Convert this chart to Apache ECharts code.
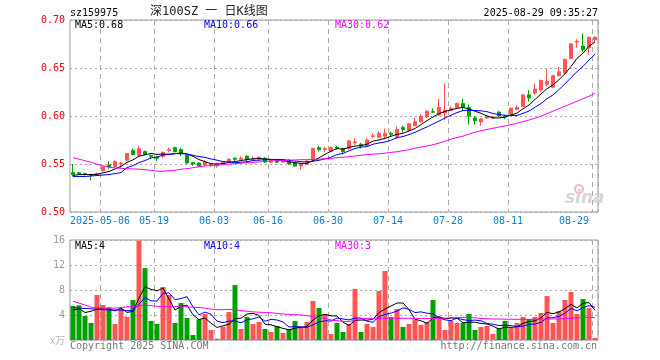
<!DOCTYPE html>
<html><head><meta charset="utf-8">
<script src="https://cdn.jsdelivr.net/npm/echarts@6/dist/echarts.min.js"></script>
<style>html,body{margin:0;padding:0;background:#fff}#c{width:660px;height:360px}</style>
</head><body><div id="c"></div>
<script>
const dates = ['2025-04-24','2025-04-25','2025-04-28','2025-04-29','2025-04-30',
'2025-05-06','2025-05-07','2025-05-08','2025-05-09','2025-05-12','2025-05-13','2025-05-14','2025-05-15','2025-05-16','2025-05-19','2025-05-20','2025-05-21','2025-05-22','2025-05-23','2025-05-26','2025-05-27','2025-05-28','2025-05-29','2025-05-30',
'2025-06-03','2025-06-04','2025-06-05','2025-06-06','2025-06-09','2025-06-10','2025-06-11','2025-06-12','2025-06-13','2025-06-16','2025-06-17','2025-06-18','2025-06-19','2025-06-20','2025-06-23','2025-06-24','2025-06-25','2025-06-26','2025-06-27','2025-06-30',
'2025-07-01','2025-07-02','2025-07-03','2025-07-04','2025-07-07','2025-07-08','2025-07-09','2025-07-10','2025-07-11','2025-07-14','2025-07-15','2025-07-16','2025-07-17','2025-07-18','2025-07-21','2025-07-22','2025-07-23','2025-07-24','2025-07-25','2025-07-28','2025-07-29','2025-07-30','2025-07-31',
'2025-08-01','2025-08-04','2025-08-05','2025-08-06','2025-08-07','2025-08-08','2025-08-11','2025-08-12','2025-08-13','2025-08-14','2025-08-15','2025-08-18','2025-08-19','2025-08-20','2025-08-21','2025-08-22','2025-08-25','2025-08-26','2025-08-27','2025-08-28','2025-08-29'];

const tickDates  = ['2025-05-06','2025-05-19','2025-06-03','2025-06-16','2025-06-30','2025-07-14','2025-07-28','2025-08-11','2025-08-29'];
const tickLabels = ['2025-05-06','05-19','06-03','06-16','06-30','07-14','07-28','08-11','08-29'];

const opens = [0.541,0.541,0.540,0.539,0.539,0.543,0.549,0.5475,0.550,0.554,0.564,0.559,0.563,0.559,0.557,0.558,0.564,0.567,0.565,0.559,0.5515,0.551,0.549,0.549,0.548,0.550,0.552,0.556,0.555,0.558,0.555,0.556,0.556,0.552,0.554,0.552,0.554,0.551,0.548,0.5495,0.554,0.567,0.565,0.563,0.5675,0.566,0.566,0.572,0.5705,0.569,0.5785,0.578,0.579,0.582,0.578,0.588,0.585,0.590,0.594,0.599,0.6045,0.601,0.603,0.606,0.609,0.613,0.609,0.598,0.594,0.598,0.598,0.604,0.600,0.602,0.607,0.610,0.622,0.624,0.627,0.633,0.630,0.642,0.645,0.660,0.677,0.673,0.671,0.6795];
const closes = [0.539,0.540,0.539,0.538,0.540,0.547,0.547,0.5525,0.551,0.561,0.560,0.566,0.560,0.558,0.556,0.562,0.565,0.563,0.561,0.551,0.550,0.548,0.552,0.550,0.550,0.552,0.555,0.555,0.556,0.555,0.556,0.557,0.552,0.554,0.552,0.553,0.550,0.548,0.550,0.553,0.566,0.565,0.566,0.567,0.5665,0.563,0.574,0.573,0.569,0.575,0.5795,0.582,0.582,0.581,0.586,0.586,0.592,0.594,0.600,0.605,0.604,0.609,0.606,0.608,0.613,0.609,0.600,0.595,0.597,0.599,0.599,0.600,0.599,0.608,0.609,0.622,0.619,0.628,0.637,0.636,0.642,0.646,0.659,0.675,0.678,0.669,0.682,0.682];
const lows   = [0.537,0.539,0.538,0.533,0.538,0.542,0.545,0.546,0.546,0.554,0.559,0.558,0.559,0.555,0.553,0.556,0.562,0.562,0.558,0.550,0.548,0.547,0.548,0.547,0.546,0.549,0.551,0.553,0.554,0.551,0.554,0.553,0.551,0.551,0.551,0.551,0.549,0.547,0.544,0.549,0.554,0.563,0.562,0.562,0.565,0.560,0.565,0.570,0.566,0.568,0.577,0.577,0.577,0.578,0.576,0.583,0.584,0.589,0.593,0.598,0.603,0.600,0.596,0.605,0.608,0.605,0.591,0.591,0.590,0.597,0.597,0.599,0.597,0.601,0.606,0.609,0.615,0.622,0.625,0.631,0.629,0.641,0.644,0.659,0.671,0.667,0.664,0.677];
const highs  = [0.550,0.542,0.541,0.540,0.541,0.548,0.553,0.554,0.552,0.561,0.566,0.569,0.564,0.560,0.558,0.563,0.567,0.568,0.567,0.560,0.552,0.552,0.554,0.551,0.551,0.553,0.556,0.557,0.558,0.559,0.558,0.558,0.557,0.555,0.555,0.554,0.555,0.552,0.551,0.554,0.567,0.569,0.568,0.568,0.569,0.567,0.575,0.577,0.572,0.577,0.582,0.584,0.587,0.584,0.589,0.590,0.593,0.598,0.602,0.606,0.608,0.618,0.634,0.610,0.614,0.618,0.612,0.600,0.598,0.601,0.600,0.605,0.601,0.609,0.611,0.623,0.627,0.634,0.638,0.649,0.643,0.651,0.660,0.676,0.680,0.686,0.683,0.683];

const ma5  = [0.538,0.539,0.539,0.539,0.5392,0.5408,0.5422,0.5449,0.5475,0.5517,0.5543,0.5581,0.5596,0.561,0.560,0.5604,0.5602,0.5608,0.5614,0.5604,0.558,0.5546,0.5524,0.5502,0.550,0.5504,0.5518,0.5524,0.5536,0.5546,0.5554,0.5558,0.5552,0.5548,0.5542,0.5536,0.5522,0.5514,0.5506,0.5508,0.5534,0.5564,0.560,0.5634,0.5661,0.5655,0.5673,0.5687,0.5691,0.5706,0.5739,0.5751,0.5767,0.5789,0.5809,0.582,0.5844,0.587,0.591,0.5952,0.599,0.6024,0.6048,0.6064,0.608,0.609,0.6072,0.605,0.6028,0.600,0.598,0.598,0.5988,0.601,0.603,0.6076,0.6114,0.6172,0.623,0.6284,0.6324,0.6378,0.644,0.6516,0.660,0.6654,0.6726,0.6772];
const ma10 = [0.537,0.537,0.537,0.5375,0.538,0.5385,0.539,0.540,0.541,0.5463,0.5483,0.5515,0.5536,0.5564,0.5572,0.5593,0.5599,0.5609,0.5607,0.5604,0.5591,0.5577,0.5569,0.5553,0.554,0.5525,0.5521,0.5513,0.5518,0.5525,0.5536,0.5541,0.5544,0.5547,0.5548,0.5547,0.5537,0.5531,0.5524,0.5522,0.5528,0.5539,0.5553,0.5571,0.5598,0.561,0.5637,0.5661,0.5676,0.5681,0.5706,0.5719,0.5729,0.5748,0.5774,0.5786,0.5806,0.583,0.586,0.5886,0.5917,0.5947,0.5979,0.6008,0.6035,0.6057,0.606,0.6057,0.6054,0.6045,0.6026,0.6015,0.6008,0.6005,0.6005,0.6028,0.6051,0.6091,0.613,0.618,0.6219,0.6275,0.6335,0.640,0.6462,0.6516,0.6583,0.6644];
const ma30 = [0.5565,0.555,0.5534,0.5519,0.5498,0.5482,0.5467,0.5458,0.5455,0.5451,0.5449,0.5446,0.5441,0.5435,0.5425,0.5425,0.543,0.5435,0.5446,0.5451,0.5461,0.5472,0.548,0.5484,0.5488,0.5493,0.5498,0.5503,0.5508,0.5514,0.5517,0.5522,0.5526,0.5531,0.5534,0.5537,0.554,0.5542,0.5545,0.5545,0.5547,0.555,0.5555,0.556,0.5566,0.5571,0.5576,0.5583,0.5591,0.5597,0.5602,0.5607,0.5613,0.5621,0.5628,0.5639,0.5649,0.5665,0.5677,0.5687,0.5701,0.5717,0.5738,0.5758,0.5776,0.579,0.5811,0.5831,0.5847,0.586,0.5873,0.5885,0.5896,0.591,0.5925,0.5941,0.5958,0.5977,0.5998,0.6024,0.605,0.6076,0.6102,0.6128,0.6154,0.618,0.6206,0.6238];

const volume = [5.44,5.55,3.84,2.72,7.2,5.6,5.23,2.56,4.96,3.73,6.4,15.9,11.5,3.04,2.56,8.48,7.2,2.72,5.92,3.52,0.8,3.3,4.16,1.6,0.21,2.13,4.48,8.8,1.76,3.68,2.56,2.88,1.76,1.28,2.24,1.12,1.76,3.04,2.08,2.88,6.24,5.12,4.16,0.96,2.72,1.28,2.56,8.16,1.28,2.56,2.08,7.84,11.04,3.68,4.96,2.08,2.56,3.36,2.4,2.88,6.4,3.68,1.6,3.04,2.72,2.72,4.16,1.6,2.08,2.24,0.96,1.92,3.04,1.92,2.72,3.68,3.36,3.68,4.32,7.04,2.72,4.64,6.4,7.68,4.16,6.56,5.12,0.32];
const volMa5  = [4.8,5.0,4.4,4.6,4.95,4.98,4.92,4.66,5.11,4.42,4.58,6.71,8.5,8.11,7.88,8.3,6.56,4.8,5.38,5.57,4.03,3.25,3.54,2.68,2.01,2.28,2.52,3.44,3.48,4.17,4.26,3.94,2.53,2.43,2.14,1.86,1.63,1.89,2.05,2.18,3.2,3.87,4.1,3.87,3.84,2.85,2.34,3.14,3.2,3.17,3.33,4.38,4.96,5.44,5.92,5.92,4.86,3.33,3.07,2.66,3.52,3.74,3.39,3.52,3.49,2.75,2.85,2.85,2.66,2.56,2.21,1.76,2.05,2.02,2.11,2.66,2.94,3.07,3.55,4.42,4.22,4.48,5.02,5.7,5.12,5.89,5.98,4.77];
const volMa10 = [5.2,5.1,5.05,5.0,4.9,4.85,4.8,4.8,4.8,4.7,4.75,5.69,6.8,6.27,6.23,7.5,7.53,6.46,6.63,6.94,5.3,4.03,4.46,4.13,3.02,2.77,3.03,3.06,2.75,3.23,3.39,3.69,3.01,3.3,3.2,2.9,2.08,2.16,2.1,2.02,2.42,2.88,3.08,3.03,3.52,3.36,3.22,3.51,3.52,3.01,2.84,3.76,4.08,4.31,4.63,5.15,4.91,4.39,4.5,4.29,4.19,3.54,3.23,3.09,3.51,3.25,3.12,3.19,3.08,2.66,2.53,2.31,2.36,2.29,2.16,2.21,2.5,2.55,2.83,3.54,3.58,3.78,4.29,5.06,4.67,5.19,5.5,5.24];
const volMa30 = [6.2,5.9,5.6,5.25,5.15,5.1,5.07,5.1,5.2,5.3,5.35,5.5,5.6,5.5,5.4,5.33,5.33,5.33,5.33,5.3,5.25,5.2,5.1,4.95,4.85,4.85,4.9,4.85,4.7,4.6,4.5,4.45,4.4,4.37,4.25,4.15,4.1,4.05,4.0,3.9,3.75,3.6,3.45,3.2,3.1,3.0,2.95,3.2,3.45,3.47,3.47,3.5,3.5,3.5,3.48,3.47,3.47,3.46,3.46,3.45,3.45,3.47,3.5,3.55,3.6,3.62,3.63,3.55,3.45,3.4,3.36,3.35,3.33,3.32,3.31,3.3,3.3,3.32,3.33,3.35,3.36,3.38,3.42,3.48,3.55,3.6,3.63,3.55];

const priceLegend = ['MA5:0.68','MA10:0.66','MA30:0.62'];
const volLegend = ['MA5:4','MA10:4','MA30:3'];
const titleText = '深100SZ 一 日K线图';
const codeText = 'sz159975';
const timeText = '2025-08-29 09:35:27';

const RED = '#ff5555', GREEN = '#00a000';
const MONO = 'DejaVu Sans Mono';
const ohlc = opens.map((o, i) => [o, closes[i], lows[i], highs[i]]);
const isTick = (idx, val) => tickDates.indexOf(val) >= 0;

const chart = echarts.init(document.getElementById('c'), null, {renderer: 'canvas'});
const lineS = (name, data, color, xi, yi) => ({
  name, type: 'line', data, xAxisIndex: xi, yAxisIndex: yi, showSymbol: false, symbol: 'none',
  lineStyle: {color, width: 1}, itemStyle: {color}, silent: true, z: 5
});
const xAx = (gi, showLabel) => ({
  type: 'category', gridIndex: gi, data: dates, boundaryGap: true,
  axisLine: {show: false}, axisTick: {show: false},
  splitLine: {show: true, interval: isTick, lineStyle: {color: '#aaa', type: [5, 4], width: 1}},
  axisLabel: {show: showLabel, interval: isTick, margin: 4, color: '#0a7fd2',
    fontFamily: MONO, fontSize: 10, padding: [0, 6, 0, 0], alignMaxLabel: 'right',
    formatter: v => tickLabels[tickDates.indexOf(v)]}
});
const txt = (text, x, y, fill, font, align) => ({
  type: 'text', x, y, silent: true, z: 100,
  style: {text, fill, font, textAlign: align || 'left', align: align || 'left',
    textVerticalAlign: 'middle', verticalAlign: 'middle'}
});

chart.setOption({
  animation: false,
  backgroundColor: '#fff',
  grid: [
    {left: 70, right: 62, top: 20, height: 192, show: true, borderColor: '#999', borderWidth: 1, backgroundColor: 'transparent'},
    {left: 70, right: 62, top: 240, height: 100, show: true, borderColor: '#999', borderWidth: 1, backgroundColor: 'transparent'}
  ],
  xAxis: [xAx(0, true), xAx(1, false)],
  yAxis: [
    {type: 'value', gridIndex: 0, min: 0.5, max: 0.7, interval: 0.05,
      axisLine: {show: false}, axisTick: {show: false},
      axisLabel: {color: '#ff0000', fontFamily: MONO, fontSize: 10, margin: 5, formatter: v => v.toFixed(2)},
      splitLine: {show: true, lineStyle: {color: '#aaa', type: [2, 3], width: 1}}},
    {type: 'value', gridIndex: 1, min: 0, max: 16, interval: 4,
      axisLine: {show: false}, axisTick: {show: false},
      axisLabel: {color: '#999', fontFamily: MONO, fontSize: 10, margin: 5,
        formatter: v => v === 0 ? '{u|x万}' : String(v),
        rich: {u: {color: '#bbb', fontSize: 10, fontFamily: 'Noto Sans CJK SC'}}},
      splitLine: {show: true, lineStyle: {color: '#aaa', type: [2, 3], width: 1}}}
  ],
  series: [
    {name: 'K', type: 'candlestick', xAxisIndex: 0, yAxisIndex: 0, data: ohlc, barWidth: 4,
      itemStyle: {color: RED, color0: GREEN, borderColor: RED, borderColor0: GREEN, borderWidth: 1}, z: 3},
    lineS('MA5', ma5, '#000000', 0, 0),
    lineS('MA10', ma10, '#0000ff', 0, 0),
    lineS('MA30', ma30, '#ff00ff', 0, 0),
    {name: 'VOL', type: 'bar', xAxisIndex: 1, yAxisIndex: 1, data: volume, barWidth: 5,
      itemStyle: {color: p => (closes[p.dataIndex] >= opens[p.dataIndex] ? RED : GREEN)}, z: 3},
    lineS('VMA5', volMa5, '#000000', 1, 1),
    lineS('VMA10', volMa10, '#0000ff', 1, 1),
    lineS('VMA30', volMa30, '#ff00ff', 1, 1)
  ],
  graphic: [
    txt(codeText, 70, 13.5, '#000', '10px ' + MONO),
    txt(titleText, 150, 12, '#222', '12px "' + MONO + '", "Noto Sans CJK SC"'),
    txt(timeText, 598, 13.5, '#000', '10px ' + MONO, 'right'),
    txt(priceLegend[0], 75, 25.5, '#000', '10px ' + MONO),
    txt(priceLegend[1], 204, 25.5, '#0000ff', '10px ' + MONO),
    txt(priceLegend[2], 335, 25.5, '#ff00ff', '10px ' + MONO),
    txt(volLegend[0], 75, 246.5, '#000', '10px ' + MONO),
    txt(volLegend[1], 204, 246.5, '#0000ff', '10px ' + MONO),
    txt(volLegend[2], 335, 246.5, '#ff00ff', '10px ' + MONO),
    txt('Copyright 2025 SINA.COM', 70, 346, '#777', '10px ' + MONO),
    txt('http://finance.sina.com.cn', 597, 346, '#777', '10px ' + MONO, 'right'),
    {type: 'circle', shape: {cx: 579, cy: 189, r: 4}, silent: true, z: 1,
      style: {fill: 'none', stroke: '#f2bcbc', lineWidth: 2}},
    txt('sina', 565, 199, '#d6d6d6', 'italic bold 17px "DejaVu Sans"')
  ]
});
</script></body></html>
